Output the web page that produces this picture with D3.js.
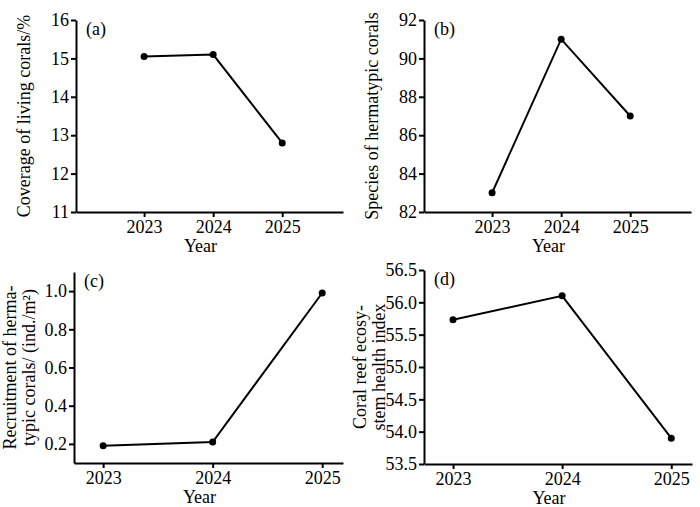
<!DOCTYPE html>
<html><head><meta charset="utf-8">
<script src="https://cdn.jsdelivr.net/npm/d3@7"></script>
<style>body{margin:0;background:#fff}text{font-family:"Liberation Serif",serif;fill:#000}</style>
</head><body><div id="chart"></div>
<script>
const years = [2023, 2024, 2025];
const coverage = [15.05, 15.1, 12.8];
const species = [83, 91, 87];
const recruitment = [0.19, 0.21, 0.99];
const healthIndex = [55.73, 56.1, 53.9];

const svg = d3.select("#chart").append("svg").attr("width", 700).attr("height", 507);

const panels = [
  {tag: "(a)", vals: coverage, x0: 76, x1: 343, y0: 20, y1: 212, xd: [2022.014, 2025.88], yd: [11, 16], ticks: [11,12,13,14,15,16], fmt: d3.format("d"), label: ["Coverage of living corals/%"]},
  {tag: "(b)", vals: species, x0: 424, x1: 691, y0: 20, y1: 212, xd: [2022.014, 2025.88], yd: [82, 92], ticks: [82,84,86,88,90,92], fmt: d3.format("d"), label: ["Species of hermatypic corals"]},
  {tag: "(c)", vals: recruitment, x0: 74, x1: 343, y0: 272, y1: 463, xd: [2022.734, 2025.19], yd: [0.1, 1.1], ticks: [0.2,0.4,0.6,0.8,1.0], fmt: d3.format(".1f"), label: ["Recruitment of herma-", "typic corals/ (ind./m²)"]},
  {tag: "(d)", vals: healthIndex, x0: 424, x1: 692, y0: 270, y1: 464, xd: [2022.734, 2025.19], yd: [53.5, 56.5], ticks: [53.5,54,54.5,55,55.5,56,56.5], fmt: d3.format(".1f"), label: ["Coral reef ecosy-", "stem health index"]}
];

panels.forEach(p => {
  const x = d3.scaleLinear().domain(p.xd).range([p.x0, p.x1]);
  const y = d3.scaleLinear().domain(p.yd).range([p.y1, p.y0]);
  const g = svg.append("g");

  const ya = g.append("g").attr("transform", `translate(${p.x0},0)`)
    .call(d3.axisLeft(y).tickValues(p.ticks).tickFormat(p.fmt).tickSize(5).tickSizeOuter(0));
  const xa = g.append("g").attr("transform", `translate(0,${p.y1})`)
    .call(d3.axisBottom(x).tickValues(years).tickFormat(d3.format("d")).tickSize(5).tickSizeOuter(0));
  [ya, xa].forEach(a => {
    a.select(".domain").attr("stroke-width", 2);
    a.selectAll(".tick line").attr("stroke-width", 2);
    a.selectAll("text").style("font-size", "18px").style("font-family", "Liberation Serif").attr("fill", "#000");
  });
  ya.selectAll("text").attr("x", -7);
  xa.selectAll("text").attr("y", 8);

  g.append("text").attr("x", (p.x0 + p.x1) / 2 - 9).attr("y", p.y1 + 40)
    .attr("text-anchor", "middle").style("font-size", "18px").text("Year");
  g.append("text").attr("x", p.x0 + 10).attr("y", p.y0 + 15).style("font-size", "18px").text(p.tag);

  const cy = (p.y0 + p.y1) / 2;
  const lx = p.label.length === 1 ? p.x0 - 46 : p.x0 - 58;
  p.label.forEach((t, i) => {
    g.append("text").attr("transform", `translate(${lx + i * 19},${cy}) rotate(-90)`)
      .attr("text-anchor", "middle").style("font-size", "18px").text(t);
  });

  const line = d3.line().x((d, i) => x(years[i])).y(d => y(d));
  g.append("path").datum(p.vals).attr("d", line).attr("fill", "none").attr("stroke", "#000").attr("stroke-width", 2);
  g.selectAll("circle").data(p.vals).join("circle")
    .attr("cx", (d, i) => x(years[i])).attr("cy", d => y(d)).attr("r", 3.5).attr("fill", "#000");
});
</script></body></html>
